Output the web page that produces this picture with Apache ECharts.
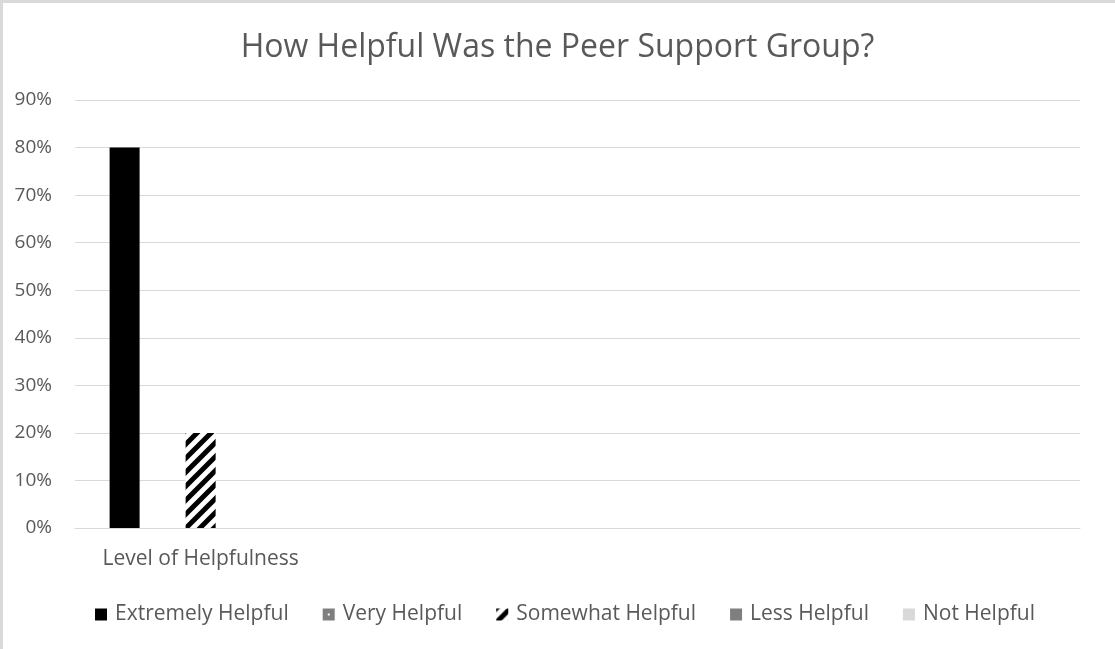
<!DOCTYPE html>
<html>
<head>
<meta charset="utf-8">
<script src="https://cdn.jsdelivr.net/npm/echarts@6/dist/echarts.min.js"></script>
<style>
html,body{margin:0;padding:0;background:#fff;}
#chart{width:1115px;height:649px;}
</style>
</head>
<body>
<div id="chart"></div>
<script>
const titleText = 'How Helpful Was the Peer Support Group?';
const categories = ['Level of Helpfulness', ' ', '  ', '   '];
const seriesNames = ['Extremely Helpful', 'Very Helpful', 'Somewhat Helpful', 'Less Helpful', 'Not Helpful'];
const extremelyHelpful = [80];
const veryHelpful = [0];
const somewhatHelpful = [20];
const lessHelpful = [0];
const notHelpful = [0];
const yTicks = [0, 10, 20, 30, 40, 50, 60, 70, 80, 90];

function stripePattern() {
  const c = document.createElement('canvas');
  const s = 14;
  c.width = s; c.height = s;
  const ctx = c.getContext('2d');
  ctx.fillStyle = '#fff';
  ctx.fillRect(0, 0, s, s);
  ctx.strokeStyle = '#000';
  ctx.lineWidth = 5;
  ctx.beginPath();
  ctx.moveTo(-2, s + 2); ctx.lineTo(s + 2, -2);
  ctx.moveTo(-2, 2); ctx.lineTo(2, -2);
  ctx.moveTo(s - 2, s + 2); ctx.lineTo(s + 2, s - 2);
  ctx.stroke();
  return c;
}
function dotPattern() {
  const c = document.createElement('canvas');
  c.width = 12; c.height = 12;
  const ctx = c.getContext('2d');
  ctx.fillStyle = '#7f7f7f';
  ctx.fillRect(0, 0, 12, 12);
  ctx.fillStyle = '#ffffff';
  ctx.fillRect(5, 5, 2, 2);
  return c;
}

const font = '"Open Sans", "Noto Sans", sans-serif';
const textColor = '#595959';
const seriesData = [extremelyHelpful, veryHelpful, somewhatHelpful, lessHelpful, notHelpful];
const seriesColors = [
  '#000000',
  { image: dotPattern(), repeat: 'repeat' },
  { image: stripePattern(), repeat: 'repeat' },
  '#7f7f7f',
  '#d9d9d9'
];

const chart = echarts.init(document.getElementById('chart'), null, { renderer: 'canvas' });
chart.setOption({
  animation: false,
  backgroundColor: '#ffffff',
  title: {
    text: titleText,
    left: 'center',
    top: 27,
    textStyle: { fontFamily: font, fontSize: 32, fontWeight: 'normal', color: textColor }
  },
  legend: {
    data: seriesNames,
    left: 90,
    top: 599,
    itemWidth: 12,
    itemHeight: 12,
    itemGap: 34,
    icon: 'rect',
    textStyle: { fontFamily: font, fontSize: 21, color: textColor, padding: [0, 0, 0, 3] }
  },
  grid: { left: 75, right: 35, top: 100, bottom: 121, containLabel: false },
  xAxis: {
    type: 'category',
    data: categories,
    axisLine: { show: true, lineStyle: { color: '#d9d9d9', width: 1 } },
    axisTick: { show: false },
    axisLabel: { fontFamily: font, fontSize: 21, color: textColor, margin: 21, interval: 0 },
    splitLine: { show: false }
  },
  yAxis: {
    type: 'value',
    min: yTicks[0],
    max: yTicks[yTicks.length - 1],
    interval: 10,
    axisLine: { show: false },
    axisTick: { show: false },
    axisLabel: { fontFamily: font, fontSize: 19, color: textColor, margin: 23, formatter: '{value}%' },
    splitLine: { lineStyle: { color: '#d9d9d9', width: 1 } }
  },
  series: seriesNames.map((name, i) => ({
    name: name,
    type: 'bar',
    data: seriesData[i],
    barWidth: 30,
    barGap: '26.7%',
    itemStyle: { color: seriesColors[i] }
  })),
  graphic: [
    { type: 'rect', shape: { x: 0, y: 0, width: 1115, height: 3 }, style: { fill: '#d9d9d9' }, silent: true },
    { type: 'rect', shape: { x: 0, y: 0, width: 3, height: 649 }, style: { fill: '#d9d9d9' }, silent: true }
  ]
});
</script>
</body>
</html>
